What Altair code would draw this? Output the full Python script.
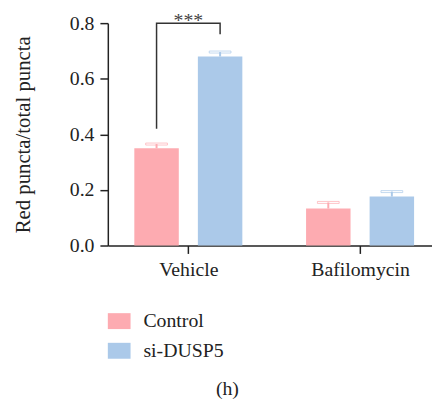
import altair as alt
import pandas as pd

FONT = "Liberation Serif"

groups = ["Vehicle", "Bafilomycin"]
group_pos = [0, 1]
series = ["Control", "si-DUSP5"]
series_offset = [-0.185, 0.185]
control_mean = [0.35, 0.133]
control_err = [0.015, 0.022]
dusp5_mean = [0.68, 0.176]
dusp5_err = [0.016, 0.018]
colors = ["#FDABB1", "#ABC9E9"]

bracket_x = [-0.185, -0.185, 0.185, 0.185]
bracket_y = [0.42, 0.8, 0.8, 0.76]
sig_label = "***"
panel_label = "(h)"

rows = []
for s, off, means, errs in zip(series, series_offset, [control_mean, dusp5_mean], [control_err, dusp5_err]):
    for g, p, m, e in zip(groups, group_pos, means, errs):
        rows.append(dict(group=g, series=s, pos=p + off, mean=m, upper=m + e))
df = pd.DataFrame(rows)

bracket_df = pd.DataFrame({"x": bracket_x, "y": bracket_y, "order": list(range(len(bracket_x)))})
sig_df = pd.DataFrame({"x": [0.0], "y": [0.8], "t": [sig_label]})
cap_df = pd.DataFrame({"t": [panel_label]})

xscale = alt.Scale(domain=[-0.44, 1.39], nice=False, zero=False)
yscale = alt.Scale(domain=[0, 0.8], nice=False)
label_expr = "datum.value == 0 ? 'Vehicle' : 'Bafilomycin'"

x_axis = alt.Axis(values=[0, 1], labelExpr=label_expr, title=None, grid=False,
                  tickSize=8, labelPadding=6, labelFontSize=20, labelFont=FONT,
                  domainColor="#222", tickColor="#222", labelColor="#222",
                  domainWidth=1.5, tickWidth=1.5)
y_axis = alt.Axis(values=[0, 0.2, 0.4, 0.6, 0.8], format=".1f", title="Red puncta/total puncta",
                  grid=False, tickSize=8, labelPadding=6, labelFontSize=20, labelFont=FONT,
                  titleFont=FONT, titleFontSize=21, titleFontWeight="normal", titleColor="#222",
                  titlePadding=36, domainColor="#222", tickColor="#222", labelColor="#222",
                  domainWidth=1.5, tickWidth=1.5)

base = alt.Chart(df)

bars = base.mark_bar(size=45).encode(
    x=alt.X("pos:Q", scale=xscale, axis=x_axis),
    y=alt.Y("mean:Q", scale=yscale, axis=y_axis),
    color=alt.Color("series:N", scale=alt.Scale(domain=series, range=colors),
                    legend=alt.Legend(orient="none", legendX=0, legendY=290, title=None,
                                      symbolType="M-1,-0.7H1V0.7H-1Z", symbolSize=529,
                                      symbolStrokeWidth=0, symbolOpacity=1,
                                      labelFont=FONT, labelFontSize=20, labelColor="#222",
                                      labelOffset=13, rowPadding=8, padding=0,
                                      direction="vertical")),
)

stroke_enc = alt.Stroke("series:N", scale=alt.Scale(domain=series, range=colors), legend=None)

err_rule = base.mark_rule(strokeWidth=2).encode(
    x="pos:Q", y="mean:Q", y2="upper:Q", stroke=stroke_enc
)
err_cap = base.mark_tick(orient="horizontal", size=22, thickness=2).encode(
    x="pos:Q", y="upper:Q", color=alt.value(None), stroke=stroke_enc
)

bracket = alt.Chart(bracket_df).mark_line(color="#333", strokeWidth=1.5).encode(
    x="x:Q", y="y:Q", order="order:Q"
)
sig = alt.Chart(sig_df).mark_text(font=FONT, fontSize=20, color="#444",
                                  baseline="alphabetic", dy=4).encode(
    x="x:Q", y="y:Q", text="t:N"
)
caption = alt.Chart(cap_df).mark_text(font=FONT, fontSize=20, color="#222").encode(
    x=alt.value(121), y=alt.value(370), text="t:N"
)

chart = alt.layer(bars, err_rule, err_cap, bracket, sig, caption).properties(
    width=328, height=225,
    autosize=alt.AutoSizeParams(type="none"),
    padding={"left": 101, "top": 13, "right": 0, "bottom": 155},
).configure_view(stroke=None)

chart.save("out.html", embed_options={"renderer": "svg", "actions": False})
